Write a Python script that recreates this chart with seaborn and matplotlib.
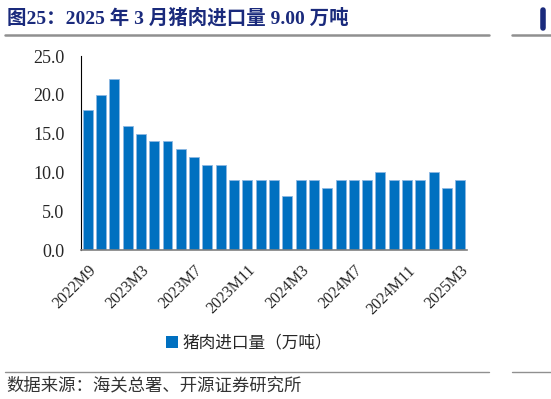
import numpy as np
import pandas as pd
import matplotlib
matplotlib.use('Agg')
import matplotlib.pyplot as plt
import seaborn as sns
from matplotlib.lines import Line2D
from matplotlib.patches import Patch

# monthly labels (2023M1/M2 not reported separately)
months = ['2022M9', '2022M10', '2022M11', '2022M12',
          '2023M3', '2023M4', '2023M5', '2023M6', '2023M7', '2023M8', '2023M9', '2023M10', '2023M11', '2023M12',
          '2024M1', '2024M2', '2024M3', '2024M4', '2024M5', '2024M6', '2024M7', '2024M8', '2024M9', '2024M10',
          '2024M11', '2024M12', '2025M1', '2025M2', '2025M3']
imports = [18, 20, 22, 16, 15, 14, 14, 13, 12, 11, 11, 9, 9, 9, 9,
           7, 9, 9, 8, 9, 9, 9, 10, 9, 9, 9, 10, 8, 9]
yticks = [0, 5, 10, 15, 20, 25]
series_name = '猪肉进口量（万吨）'
title_txt = '图25：2025 年 3 月猪肉进口量 9.00 万吨'
source_txt = '数据来源：海关总署、开源证券研究所'

sns.set_style('white')
serif = ['Liberation Serif', 'Noto Sans CJK SC']
cjk = ['Noto Sans CJK SC', 'DejaVu Sans']
plt.rcParams['font.family'] = serif

df = pd.DataFrame({'month': months, 'value': imports})

fig = plt.figure(figsize=(5.51, 3.99), dpi=100)
ax = fig.add_axes([0.147, 0.3734, 0.7005, 0.4862])

sns.barplot(data=df, x='month', y='value', color='#0070C0', width=0.75,
            edgecolor='#8DB8E2', linewidth=0.6, saturation=1, ax=ax)

ax.set_xlim(-0.5, len(months) - 0.5)
ax.set_ylim(0, 25)
ax.set_yticks(yticks)
ax.set_yticklabels([f'{v:.1f}' for v in yticks], fontsize=13)
ax.set_xlabel('')
ax.set_ylabel('')

lab_idx = list(range(0, len(months), 4))
ax.set_xticks(lab_idx)
ax.set_xticklabels([months[i] for i in lab_idx], rotation=45, ha='right',
                   rotation_mode='anchor', fontsize=11.5)
ax.set_xticks(np.arange(-0.5, len(months), 1), minor=True)
ax.tick_params(axis='x', which='major', length=0, pad=9)
ax.tick_params(axis='x', which='minor', length=3, direction='in', color='black', width=0.8)
ax.tick_params(axis='y', length=4, direction='in', color='black', width=0.8, pad=12)

for s in ['top', 'right']:
    ax.spines[s].set_visible(False)
ax.spines['left'].set_color('black')
ax.spines['left'].set_linewidth(0.8)
ax.spines['bottom'].set_color('#808080')
ax.spines['bottom'].set_linewidth(1.2)

handles = [Patch(facecolor='#0070C0', edgecolor='none')]
fig.legend(handles, [series_name], loc='center', bbox_to_anchor=(0.452, 0.14),
           frameon=False, handlelength=0.7, handleheight=0.7, handletextpad=0.3,
           prop={'family': cjk, 'size': 12})

# title and source block
fig.text(0.012, 0.955, title_txt, fontsize=14, fontweight='bold', color='#1A2A7C',
         va='center', ha='left', family=serif)
fig.add_artist(Line2D([0.009, 0.888], [0.912, 0.912], color='#909090', lw=1.8))
fig.add_artist(Line2D([0.93, 1.0], [0.912, 0.912], color='#909090', lw=1.8))
fig.add_artist(Line2D([0.985, 0.985], [0.93, 0.975], color='#1A2A7C', lw=4))
fig.add_artist(Line2D([0.009, 0.888], [0.068, 0.068], color='#909090', lw=1.0))
fig.add_artist(Line2D([0.93, 1.0], [0.068, 0.068], color='#909090', lw=1.0))
fig.text(0.012, 0.035, source_txt, fontsize=12.5, color='#333333', va='center', ha='left',
         family=cjk)

fig.savefig('out.png', dpi=100)
